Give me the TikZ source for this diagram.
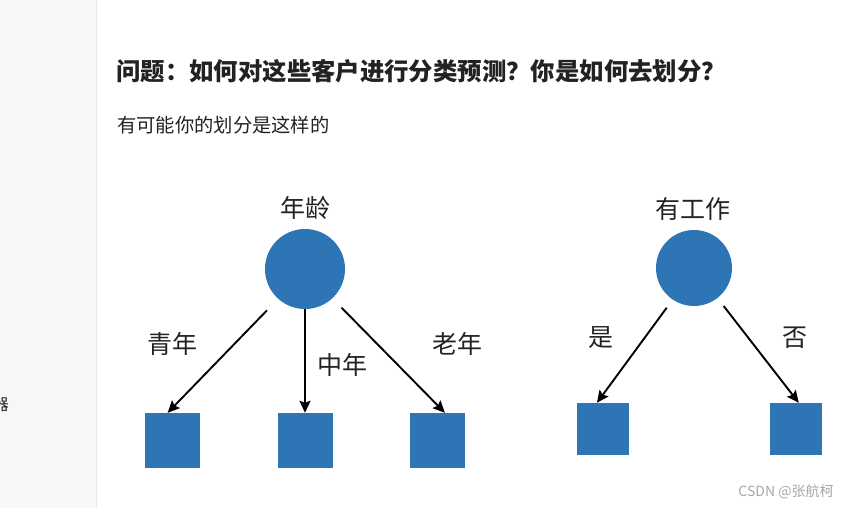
\documentclass[tikz,border=0pt]{standalone}
\usepackage{fontspec}
\setmainfont{Noto Sans CJK SC}
\usepackage{tikz}
\usetikzlibrary{arrows.meta, positioning}
\definecolor{nodeblue}{RGB}{46, 117, 182}
\definecolor{sidegray}{RGB}{247, 247, 248}
\definecolor{textdark}{RGB}{34, 34, 34}

\begin{document}
\begin{tikzpicture}[
			x=1pt, y=-1pt,
			root/.style={circle, fill=nodeblue, minimum size=80pt, inner sep=0pt},
			leaf/.style={rectangle, fill=nodeblue, minimum size=55pt, inner sep=0pt},
			lbl/.style={font=\fontsize{25}{30}\selectfont, inner sep=0pt, text=textdark},
			arrow/.style={-{Stealth[length=12pt, width=11pt, inset=2pt]}, line width=1.9pt}
		]
		\useasboundingbox (0,0) rectangle (849,508);
		% sidebar of the page
		\fill[sidegray] (0,0) rectangle (96,508);
		\draw[black!9, line width=1.5pt] (96.5,0) -- (96.5,508);
		\node[anchor=east, inner sep=0pt, font=\fontsize{16}{18}\selectfont, text=textdark] (side) at (9,405) {器};
		
		% heading
		\node[anchor=west, inner sep=0pt, font=\fontsize{24.4}{28}\selectfont\bfseries, text=textdark] (title) at (116,71) {问题：如何对这些客户进行分类预测？你是如何去划分？};
		\node[anchor=west, inner sep=0pt, font=\fontsize{19.3}{23}\selectfont, text=textdark] (intro) at (117,125) {有可能你的划分是这样的};
		
		% first tree
		\node[root] (age) at (305,269) {};
		\node[leaf] (young) at (172.5,440.5) {};
		\node[leaf] (middle) at (305,440.5) {};
		\node[leaf] (old) at (437.5,440.5) {};
		\node[lbl] (agelbl) at (305,208) {年龄};
		\node[lbl] (younglbl) at (172,344) {青年};
		\node[lbl] (middlelbl) at (342,365) {中年};
		\node[lbl] (oldlbl) at (457,344) {老年};
		
		\draw[arrow, shorten <=16pt] (age.228) -- (young.100);
		\draw[arrow] (age.south) -- (middle.north);
		\draw[arrow, shorten <=13pt] (age.313) -- (old.75);
		
		% second tree
		\node[root, minimum size=76pt] (job) at (694,268) {};
		\node[leaf, minimum size=52pt] (yes) at (602.5,429) {};
		\node[leaf, minimum size=52pt] (no) at (796,429) {};
		\node[lbl] (joblbl) at (693,209) {有工作};
		\node[lbl] (yeslbl) at (601,338) {是};
		\node[lbl] (nolbl) at (795,338) {否};
		
		\draw[arrow, shorten <=10pt] (job.236) -- (yes.102);
		\draw[arrow, shorten <=10pt] (job.308) -- (no.84);
		
		% watermark
		\node[inner sep=0pt, font=\fontsize{14}{16}\selectfont, text=black!35] (mark) at (786,492) {CSDN @张航柯};
\end{tikzpicture}
\end{document}
